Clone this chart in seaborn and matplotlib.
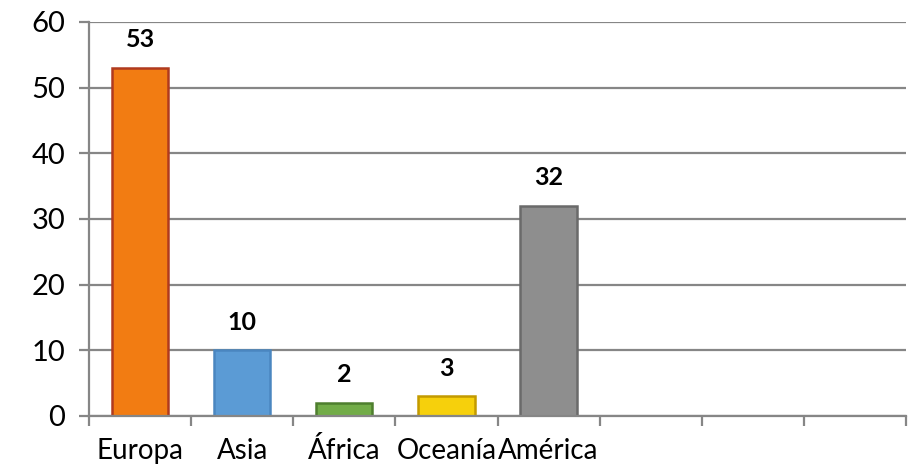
import matplotlib
matplotlib.use("Agg")
import matplotlib.pyplot as plt
import seaborn as sns
import pandas as pd
from matplotlib.ticker import FixedLocator

categories = ["Europa", "Asia", "África", "Oceanía", "América"]
values = [53, 10, 2, 3, 32]
n_slots = 8
yticks = [0, 10, 20, 30, 40, 50, 60]

face = ["#F27C12", "#5B9BD5", "#72AC48", "#F6D00C", "#8E8E8E"]
edge = ["#B03A1E", "#4A86C0", "#4E7E2E", "#C39A00", "#6A6A6A"]

sns.set_theme(style="white")
plt.rcParams['font.family'] = ['Lato', 'DejaVu Sans']

fig = plt.figure(figsize=(9.15, 4.68), dpi=100)
ax = fig.add_axes([89/915, 1-416/468, 817/915, 394/468])

df = pd.DataFrame({"cat": categories, "val": values})
sns.barplot(data=df, x="cat", y="val", hue="cat", palette=face, width=0.55,
            legend=False, ax=ax, saturation=1)

for cont, e in zip(ax.containers, edge):
    for p in cont:
        p.set_edgecolor(e)
        p.set_linewidth(1.8)
    ax.bar_label(cont, padding=12, fontsize=18, fontweight="bold", color="black")

grid_c = "#868686"
ax.set_xlim(-0.5, n_slots - 0.5)
ax.set_ylim(0, 60)
ax.set_yticks(yticks)
ax.yaxis.grid(True, color=grid_c, lw=1.6)
ax.set_axisbelow(True)
ax.set_xlabel("")
ax.set_ylabel("")

ax.set_xticks(range(len(categories)))
ax.set_xticklabels(categories)
for lab in ax.get_xticklabels():
    lab.set_verticalalignment("baseline")
ax.xaxis.set_minor_locator(FixedLocator([i - 0.5 for i in range(n_slots + 1)]))
ax.tick_params(axis="x", which="major", length=0, pad=31, labelsize=20, labelcolor="black")
ax.tick_params(axis="x", which="minor", length=7.5, width=1.6, color=grid_c, direction="out", bottom=True)
ax.tick_params(axis="y", length=7, width=1.6, color=grid_c, direction="out", left=True,
               pad=10, labelsize=21, labelcolor="black")

for s in ["top", "right"]:
    ax.spines[s].set_visible(False)
for s in ["left", "bottom"]:
    ax.spines[s].set_color(grid_c)
    ax.spines[s].set_linewidth(1.6)

fig.savefig("out.png", dpi=100)
